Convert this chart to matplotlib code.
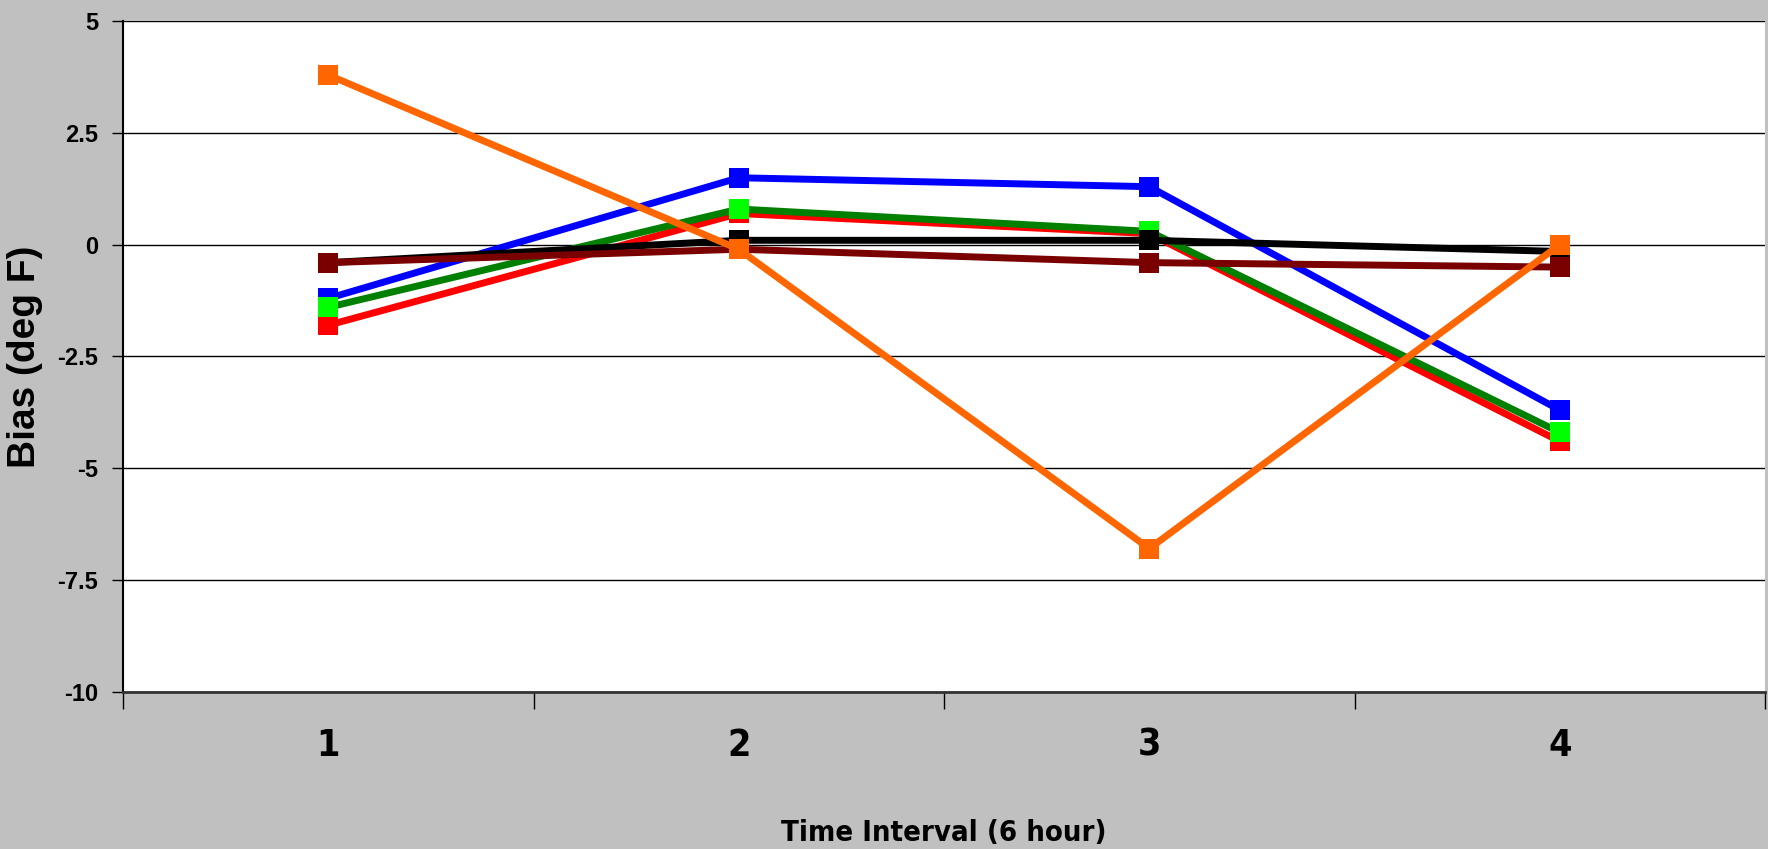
#! python3
# bias_by_interval.py - forecast temperature bias for each 6 hour interval

import matplotlib
matplotlib.use('Agg')
import matplotlib.pyplot as plt
import matplotlib.ticker as ticker
from matplotlib import font_manager

# bias values (deg F) per time interval
INTERVALS = [1, 2, 3, 4]
RED = [-1.8, 0.7, 0.25, -4.4]
BLUE = [-1.2, 1.5, 1.3, -3.7]
GREEN = [-1.4, 0.8, 0.3, -4.2]
BLACK = [-0.4, 0.1, 0.1, -0.15]
BROWN = [-0.4, -0.1, -0.4, -0.5]
ORANGE = [3.8, -0.1, -6.8, 0.0]

Y_TICKS = [5, 2.5, 0, -2.5, -5, -7.5, -10]
Y_TICK_LABELS = ['5', '2.5', '0', '-2.5', '-5', '-7.5', '-10']

WIDE = ['Liberation Sans', 'DejaVu Sans']


def narrow_font():
    """
    Pick a condensed sans family if one is installed
    :return: (family list, stretch)
    """
    names = {f.name for f in font_manager.fontManager.ttflist}
    if 'Liberation Sans Narrow' in names:
        return ['Liberation Sans Narrow', 'DejaVu Sans'], 'normal'
    condensed = [f for f in font_manager.fontManager.ttflist
                 if f.name == 'DejaVu Sans' and f.stretch == 'condensed']
    if condensed:
        return ['DejaVu Sans'], 'condensed'
    return WIDE, 'normal'


def main():
    narrow, stretch = narrow_font()

    fig = plt.figure(figsize=(17.68, 8.49), dpi=100, facecolor='#c0c0c0')
    ax = fig.add_axes([0.0696, 0.1855, 0.9287, 0.7893])
    ax.set_facecolor('white')

    series = [(RED, '#ff0000'), (BLUE, '#0000ff'), (GREEN, '#008000'),
              (BLACK, '#000000'), (BROWN, '#7a0000'), (ORANGE, '#ff6600')]
    marker_colors = {'#008000': '#00ff00'}
    for values, color in series:
        ax.plot(INTERVALS, values, color=color, linewidth=5,
                marker='s', markersize=15,
                markerfacecolor=marker_colors.get(color, color),
                markeredgewidth=0, solid_joinstyle='miter')

    ax.set_xlim(0.5, 4.5)
    ax.set_ylim(-10, 5)

    # horizontal grid lines every 2.5
    ax.set_yticks(Y_TICKS)
    ax.set_yticklabels(Y_TICK_LABELS, family=WIDE, fontweight='bold', fontsize=17)
    ax.grid(True, axis='y', color='black', linewidth=1.0)
    ax.set_axisbelow(True)
    ax.tick_params(axis='y', direction='out', length=8, width=1, pad=10)

    # tick marks between categories, labels at category centres
    ax.xaxis.set_major_locator(ticker.FixedLocator([0.5, 1.5, 2.5, 3.5, 4.5]))
    ax.xaxis.set_major_formatter(ticker.NullFormatter())
    ax.xaxis.set_minor_locator(ticker.FixedLocator(INTERVALS))
    ax.xaxis.set_minor_formatter(ticker.FixedFormatter([str(i) for i in INTERVALS]))
    ax.tick_params(axis='x', which='major', direction='out', length=12, width=1)
    ax.tick_params(axis='x', which='minor', length=0, pad=26)
    for label in ax.get_xticklabels(minor=True):
        label.set_family(narrow)
        label.set_stretch(stretch)
        label.set_fontweight('bold')
        label.set_fontsize(27)

    for side in ['top', 'right']:
        ax.spines[side].set_visible(False)
    ax.spines['left'].set_linewidth(1.5)
    ax.spines['bottom'].set_linewidth(2)
    ax.spines['bottom'].set_color('#333333')

    ax.set_ylabel('Bias (deg F)', family=WIDE, fontweight='bold', fontsize=28,
                  labelpad=10)
    ax.set_xlabel('Time Interval (6 hour)', family=narrow, stretch=stretch,
                  fontweight='bold', fontsize=21, labelpad=40)

    fig.savefig('out.png', dpi=100, facecolor=fig.get_facecolor())


if __name__ == '__main__':
    main()
